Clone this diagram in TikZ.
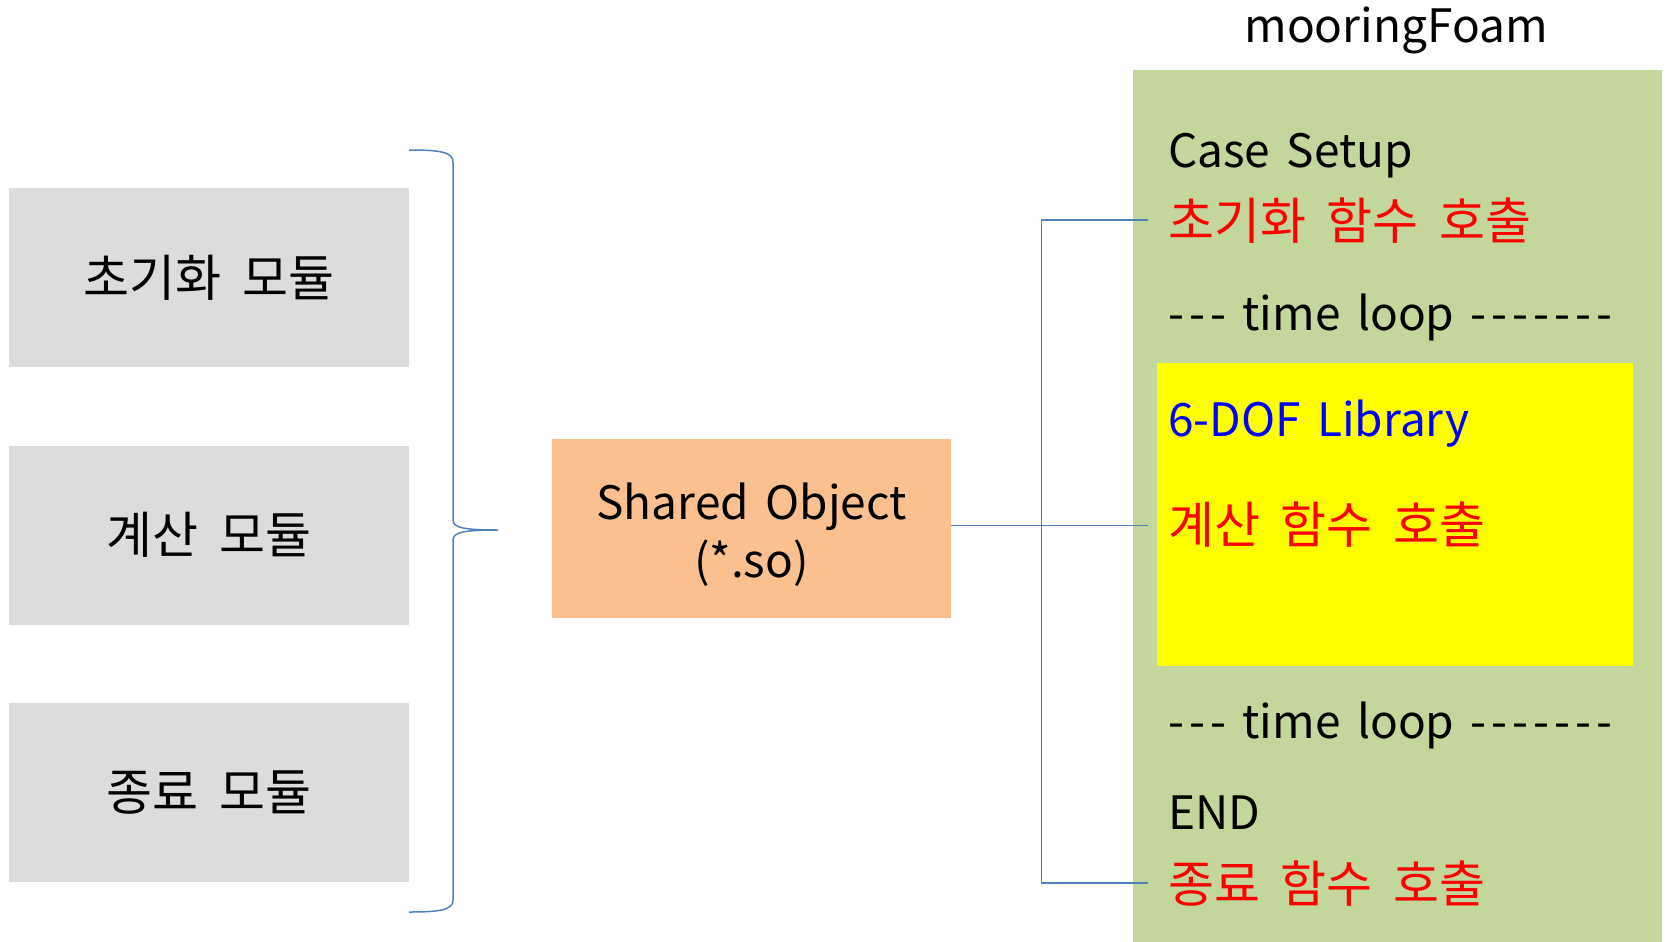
\documentclass[tikz,border=0pt]{standalone}
\usepackage{fontspec}
\setmainfont{Noto Sans CJK KR}[WordSpace=1.6]
\newfontfamily\kofont{Noto Sans CJK KR}[WordSpace=1.85]
\usepackage{xcolor}
\usetikzlibrary{positioning}
\definecolor{modgray}{RGB}{220,220,220}
\definecolor{sofill}{RGB}{250,192,143}
\definecolor{panelgreen}{RGB}{195,214,155}
\definecolor{libyellow}{RGB}{255,255,0}
\definecolor{linkblue}{RGB}{79,129,189}
\newcommand{\dsh}{-\kern5pt}

\begin{document}
\begin{tikzpicture}[
  x=1pt, y=-1pt,
  every node/.style={font=\fontsize{46}{58}\selectfont},
  ko/.style={font=\fontsize{50}{58}\selectfont\kofont},
  module/.style={rectangle, ko, fill=modgray, minimum width=400pt, minimum height=179pt, inner sep=0pt},
  line/.style={anchor=base west, inner sep=0pt},
  call/.style={anchor=base west, ko, inner xsep=20pt, inner ysep=0pt, text=red},
  link/.style={draw=linkblue, line width=1.5pt}
]
\useasboundingbox (0,0) rectangle (1668,942);
% modules
\node[module, anchor=north west] (init) at (8.5,188) {초기화 모듈};
\node[module, below=78pt of init] (calc) {계산 모듈};
\node[module, below=78pt of calc] (fin) {종료 모듈};
% brace
\draw[link] (409,150) .. controls (440,150) and (453,152) .. (453,162) -- (453,520)
  .. controls (453,528) and (465,530) .. (498,530)
  .. controls (465,530) and (453,532) .. (453,540) -- (453,900)
  .. controls (453,910) and (440,912) .. (409,912);
\node[rectangle, fill=sofill, minimum width=399pt, minimum height=179pt] (so) at (751.5,528.5)
  {\raisebox{-15pt}[0pt][0pt]{\begin{tabular}{@{}c@{}}Shared Object\\(*.so)\end{tabular}}};
% mooringFoam panel
\fill[panelgreen] (1133,70) rectangle (1662,942);
\fill[libyellow] (1157,363) rectangle (1633,666);
\node[anchor=base] (title) at (1396,43) {mooringFoam};
\node[line] (setup) at (1168,167) {Case Setup};
\node[call] (cinit) at (1148,239) {초기화 함수 호출};
\node[line] (loopa) at (1168,330) {\dsh\dsh-{} time loop \dsh\dsh\dsh\dsh\dsh\dsh-};
\node[line, text=blue] (lib) at (1168,436) {6-DOF Library};
\node[call] (ccalc) at (1148,543) {계산 함수 호출};
\node[line] (loopb) at (1168,738) {\dsh\dsh-{} time loop \dsh\dsh\dsh\dsh\dsh\dsh-};
\node[line] (stop) at (1168,829) {END};
\node[call] (cfin) at (1148,902) {종료 함수 호출};
% links
\coordinate (jn) at (1041.5,528.5);
\draw[link] (cinit.west) -| (jn) |- (cfin.west);
\draw[link] ([yshift=3pt]so.east) -- ([yshift=3pt]so.east -| ccalc.west);
\end{tikzpicture}
\end{document}
